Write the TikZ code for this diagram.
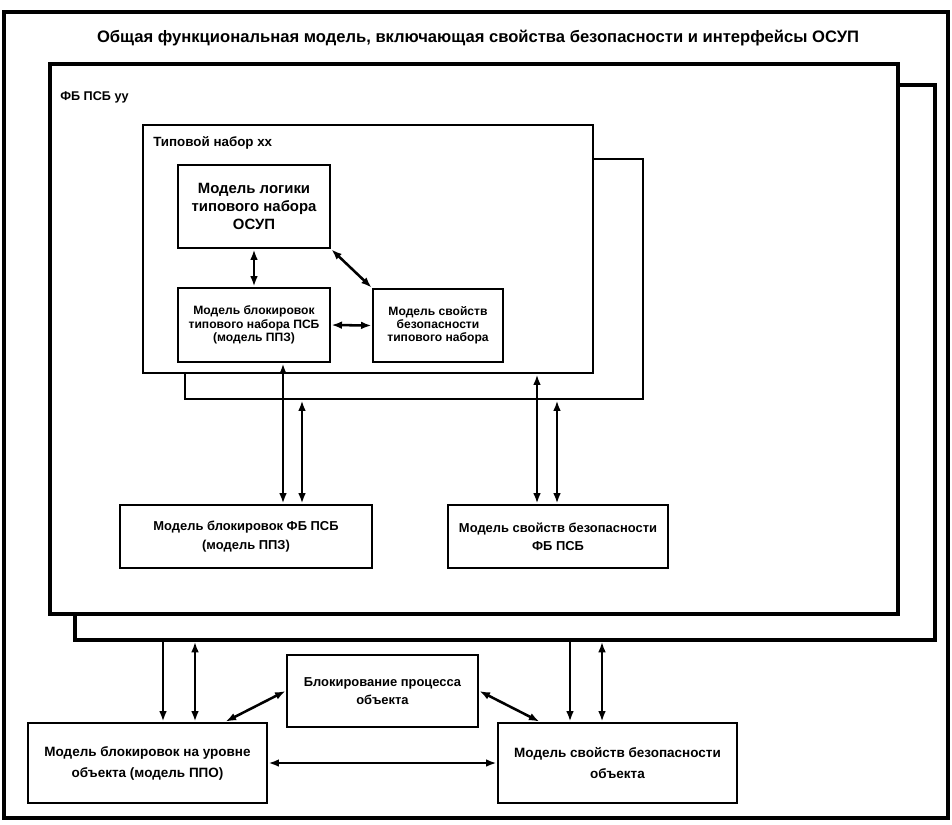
\documentclass[tikz,border=0pt]{standalone}
\usepackage{fontspec}
\setmainfont{Liberation Sans}
\usetikzlibrary{arrows.meta, positioning, calc}

\begin{document}
\begin{tikzpicture}[x=0.025cm, y=-0.025cm,
    frame/.style={draw, line width=2.4pt, fill=white, inner sep=0pt},
    box/.style={draw, line width=2pt, fill=white, align=center, inner sep=2pt, font=\bfseries\fontsize{9.2}{13}\selectfont},
    smallbox/.style={box, font=\bfseries\fontsize{8.6}{9.4}\selectfont},
    caption/.style={font=\bfseries\fontsize{9}{11}\selectfont, inner sep=0pt},
    dbl/.style={{Latex[length=7.5pt,width=5.5pt]}-{Latex[length=7.5pt,width=5.5pt]}, line width=1.8pt},
    one/.style={-{Latex[length=7.5pt,width=5.5pt]}, line width=1.8pt}]
    \useasboundingbox (0,0) rectangle (952,824);

    % Внешняя рамка и заголовок
    \node[frame, minimum width=23.6cm, minimum height=20.15cm] (outer) at (476,415) {};
    \node[caption, font=\bfseries\fontsize{11.8}{13}\selectfont] (title) at (478,38) {Общая функциональная модель, включающая свойства безопасности и интерфейсы ОСУП};

    % ФБ ПСБ
    \node[frame, minimum width=21.5cm, minimum height=13.875cm] (fbBack) at (505,362.5) {};
    \node[frame, minimum width=21.2cm, minimum height=13.75cm] (fbFront) at (474,339) {};
    \node[caption, anchor=west] (fbName) at (60,97) {ФБ ПСБ yy};

    % Типовой набор
    \node[frame, line width=2pt, minimum width=11.45cm, minimum height=6cm] (tsBack) at (414,279) {};
    \node[frame, line width=2pt, minimum width=11.25cm, minimum height=6.2cm] (tsFront) at (368,249) {};
    \node[caption, anchor=west, font=\bfseries\fontsize{9.5}{11}\selectfont] (tsName) at (153,143) {Типовой набор xx};

    \node[box, minimum width=3.8cm, minimum height=2.075cm, font=\bfseries\fontsize{10.6}{12.8}\selectfont] (logic) at (254,206.5) {Модель логики\\типового набора\\ОСУП};
    \node[smallbox, minimum width=3.8cm, minimum height=1.85cm] (tsLock) at (254,325) {Модель блокировок\\типового набора ПСБ\\(модель ППЗ)};
    \node[smallbox, minimum width=3.25cm, minimum height=1.825cm] (tsSafe) at (438,325.5) {Модель свойств\\безопасности\\типового набора};

    % Модели уровня ФБ
    \node[box, minimum width=6.3cm, minimum height=1.575cm] (fbLock) at (246,536.5) {Модель блокировок ФБ ПСБ\\(модель ППЗ)};
    \node[box, minimum width=5.5cm, minimum height=1.575cm] (fbSafe) at (558,536.5) {Модель свойств безопасности\\ФБ ПСБ};

    % Уровень объекта
    \node[box, minimum width=4.775cm, minimum height=1.8cm] (objProc) at (382.5,691) {Блокирование процесса\\объекта};
    \node[box, minimum width=5.975cm, minimum height=2cm, font=\bfseries\fontsize{9.6}{15}\selectfont] (objLock) at (147.5,763) {Модель блокировок на уровне\\объекта (модель ППО)};
    \node[box, minimum width=5.975cm, minimum height=2cm, font=\bfseries\fontsize{9.6}{15}\selectfont] (objSafe) at (617.5,763) {Модель свойств безопасности\\объекта};

    % Линии связи
    \coordinate (laneA) at (283,0);
    \coordinate (laneB) at (302,0);
    \coordinate (laneC) at (537,0);
    \coordinate (laneD) at (557,0);
    \coordinate (laneE) at (163,0);
    \coordinate (laneF) at (195,0);
    \coordinate (laneG) at (570,0);
    \coordinate (laneH) at (602,0);

    \draw[dbl] (logic.south) -- (tsLock.north);
    \draw[dbl] (logic.south east) -- (tsSafe.north west);
    \draw[dbl] (tsLock.east) -- (tsSafe.west);

    \draw[dbl] (tsLock.south -| laneA) -- (fbLock.north -| laneA);
    \draw[dbl] (tsBack.south -| laneB) -- (fbLock.north -| laneB);
    \draw[dbl] (tsFront.south -| laneC) -- (fbSafe.north -| laneC);
    \draw[dbl] (tsBack.south -| laneD) -- (fbSafe.north -| laneD);

    \draw[one] (fbBack.south -| laneE) -- (objLock.north -| laneE);
    \draw[dbl] (fbBack.south -| laneF) -- (objLock.north -| laneF);
    \draw[one] (fbBack.south -| laneG) -- (objSafe.north -| laneG);
    \draw[dbl] (fbBack.south -| laneH) -- (objSafe.north -| laneH);

    \draw[dbl] ([xshift=1.95cm]objLock.north) -- (objProc.west);
    \draw[dbl] (objProc.east) -- ([xshift=-1.95cm]objSafe.north);
    \draw[dbl] (objLock.east) -- (objSafe.west);
\end{tikzpicture}
\end{document}
